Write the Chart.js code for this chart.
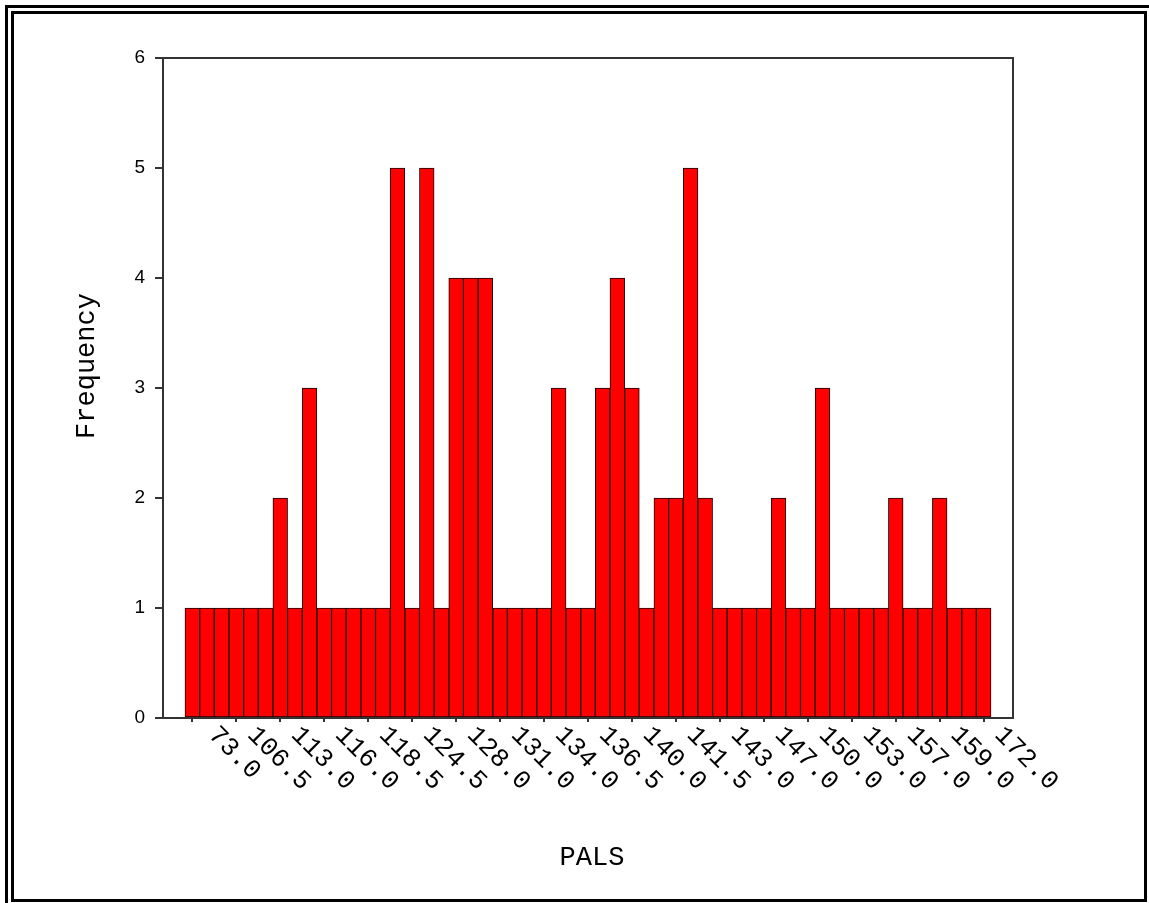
<!DOCTYPE html>
<html>
<head>
<meta charset="utf-8">
<title>PALS histogram</title>
<script src="https://cdn.jsdelivr.net/npm/chart.js"></script>
<style>
  html, body { margin: 0; padding: 0; background: #fff; overflow: hidden; }
  .frame-outer { position: absolute; left: 5px; top: 5px; width: 1300px; height: 1000px; border: 3px solid #000; }
  .frame-inner { position: absolute; left: 11px; top: 11px; width: 1136px; height: 891px; box-sizing: border-box; border: 3px solid #000; }
  #histChart { position: absolute; left: 0; top: 0; }
</style>
</head>
<body>
<div class="frame-outer"></div>
<div class="frame-inner"></div>
<canvas id="histChart" width="1149" height="903"></canvas>
<script>
// one value per bin, left to right
var frequencies = [1, 1, 1, 1, 1, 1, 2, 1, 3, 1,
                   1, 1, 1, 1, 5, 1, 5, 1, 4, 4,
                   4, 1, 1, 1, 1, 3, 1, 1, 3, 4,
                   3, 1, 2, 2, 5, 2, 1, 1, 1, 1,
                   2, 1, 1, 3, 1, 1, 1, 1, 2, 1,
                   1, 2, 1, 1, 1];
// every third bin is labelled
var tickLabels = ['73.0', '106.5', '113.0', '116.0', '118.5', '124.5', '128.0',
                  '131.0', '134.0', '136.5', '140.0', '141.5', '143.0', '147.0',
                  '150.0', '153.0', '157.0', '159.0', '172.0'];
var tickEvery = 3;
var yTicks = [0, 1, 2, 3, 4, 5, 6];
var xTitle = 'PALS';
var yTitle = 'Frequency';

var monoFont = '"Courier New", Courier, "Liberation Mono", monospace';

// labels, frame and axis titles drawn on top
var overlay = {
  id: 'overlay',
  afterDraw: function (chart) {
    var ctx = chart.ctx;
    var a = chart.chartArea;
    var x = chart.scales.x;
    ctx.save();
    ctx.strokeStyle = '#333';
    ctx.lineWidth = 2;
    ctx.strokeRect(a.left, a.top, a.right - a.left, a.bottom - a.top);

    ctx.fillStyle = '#000';
    ctx.font = '26px ' + monoFont;
    ctx.textAlign = 'left';
    ctx.textBaseline = 'middle';
    tickLabels.forEach(function (t, k) {
      var px = x.getPixelForValue(k * tickEvery);
      var shift = t.length < 5 ? 5 : 0;
      ctx.save();
      ctx.translate(px + 15 + shift, a.bottom + 13);
      ctx.rotate(Math.PI / 4);
      ctx.fillText(t, 0, 0);
      ctx.restore();
    });

    ctx.font = '27px ' + monoFont;
    ctx.textAlign = 'center';
    ctx.fillText(xTitle, (a.left + a.right) / 2 + 4, a.bottom + 140);
    ctx.save();
    ctx.translate(87, (a.top + a.bottom) / 2 - 22);
    ctx.rotate(-Math.PI / 2);
    ctx.fillText(yTitle, 0, 0);
    ctx.restore();
    ctx.restore();
  }
};

var ctx = document.getElementById('histChart').getContext('2d');

var histChart = new Chart(ctx, {
  type: 'bar',
  data: {
    datasets: [{
      data: frequencies.map(function (v, i) { return { x: i, y: v }; }),
      backgroundColor: '#ff0000',
      borderColor: '#1a0000',
      borderWidth: 1,
      borderSkipped: false,
      barPercentage: 1.0,
      categoryPercentage: 1.0
    }]
  },
  options: {
    responsive: false,
    animation: false,
    layout: { padding: { left: 0, top: 58, right: 136, bottom: 0 } },
    plugins: {
      legend: { display: false },
      tooltip: { enabled: false }
    },
    scales: {
      x: {
        type: 'linear',
        offset: false,
        min: -2,
        max: frequencies.length + 1,
        afterBuildTicks: function (scale) {
          scale.ticks = tickLabels.map(function (t, k) { return { value: k * tickEvery }; });
        },
        afterFit: function (scale) { scale.height = 185; },
        ticks: { display: false },
        grid: { offset: false, drawOnChartArea: false, drawTicks: true, tickLength: 4, color: '#333', lineWidth: 2 },
        border: { display: false }
      },
      y: {
        min: 0,
        max: 6,
        afterBuildTicks: function (scale) {
          scale.ticks = yTicks.map(function (v) { return { value: v }; });
        },
        afterFit: function (scale) { scale.width = 163; },
        ticks: {
          padding: 10,
          color: '#000',
          font: { family: '"Liberation Sans", Arial, sans-serif', size: 19 }
        },
        grid: { drawOnChartArea: false, drawTicks: true, tickLength: 8, color: '#333', lineWidth: 2 },
        border: { display: false }
      }
    }
  },
  plugins: [overlay]
});
</script>
</body>
</html>
